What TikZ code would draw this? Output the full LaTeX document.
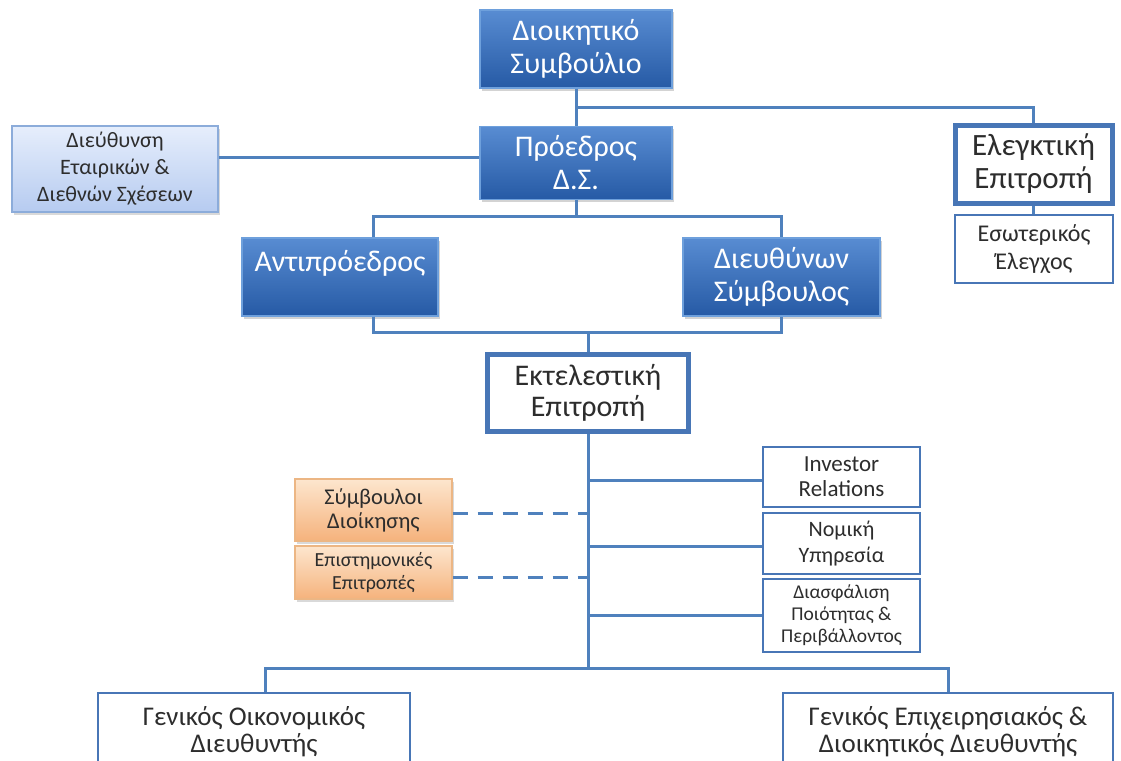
\documentclass[tikz,border=0pt]{standalone}
\usepackage{fontspec}
\setmainfont{Carlito}
\usetikzlibrary{shadows}
\definecolor{orgline}{RGB}{79,129,189}
\definecolor{frameblue}{RGB}{72,118,182}
\definecolor{dktop}{RGB}{88,140,210}
\definecolor{dkbot}{RGB}{38,90,165}
\definecolor{dkedge}{RGB}{110,160,220}
\definecolor{lttop}{RGB}{230,238,252}
\definecolor{ltbot}{RGB}{182,203,240}
\definecolor{ltedge}{RGB}{140,172,218}
\definecolor{ortop}{RGB}{253,230,206}
\definecolor{orbot}{RGB}{245,178,124}
\definecolor{oredge}{RGB}{236,182,132}
\definecolor{txtgray}{RGB}{45,45,45}
\tikzset{
  box/.style={rectangle,align=center,inner sep=0pt,text=txtgray},
  dkbox/.style={box,top color=dktop,bottom color=dkbot,draw=dkedge,line width=1.2pt,
    text=white,font=\fontsize{30}{33}\selectfont,
    drop shadow={shadow xshift=2pt,shadow yshift=-2.5pt,opacity=.35}},
  ltbox/.style={box,top color=lttop,bottom color=ltbot,draw=ltedge,line width=1.2pt,
    font=\fontsize{22}{27}\selectfont,
    drop shadow={shadow xshift=2pt,shadow yshift=-2.5pt,opacity=.3}},
  orbox/.style={box,top color=ortop,bottom color=orbot,draw=oredge,line width=1.2pt,
    drop shadow={shadow xshift=2pt,shadow yshift=-2.5pt,opacity=.3}},
  thkbox/.style={box,fill=white,draw=frameblue,line width=5pt},
  thnbox/.style={box,fill=white,draw=frameblue,line width=2.5pt},
  lnk/.style={draw=orgline,line width=3pt},
  dotlnk/.style={lnk,dash pattern=on 15pt off 10pt}
}

\begin{document}
\begin{tikzpicture}[x=1pt,y=-1pt]
\useasboundingbox (0,0) rectangle (1121,760);
%board, chairman, audit
\node[dkbox,minimum width=192,minimum height=78] (board) at (576,49) {Διοικητικό\\Συμβούλιο};
\node[dkbox,minimum width=192,minimum height=73] (chair) at (576,163) {Πρόεδρος\\Δ.Σ.};
\node[ltbox,minimum width=206,minimum height=86] (corprel) at (115,169) {Διεύθυνση\\Εταιρικών \&\\Διεθνών Σχέσεων};
\node[thkbox,minimum width=157,minimum height=78,font=\fontsize{31}{33}\selectfont] (audit) at (1033.5,164) {Ελεγκτική\\Επιτροπή};
\node[thnbox,minimum width=158,minimum height=68,font=\fontsize{24}{28}\selectfont] (intaudit) at (1034,249) {Εσωτερικός\\Έλεγχος};
\coordinate (j1) at (576,107);
\draw[lnk] (board.south) -- (chair.north);
\draw[lnk] (j1) -| (audit.north);
\draw[lnk] ([yshift=6pt]chair.west) -- ([yshift=6pt]chair.west -| corprel.east);
\draw[lnk] (audit.south) -- (audit.south |- intaudit.north);
%vice chairman and ceo
\node[dkbox,minimum width=196,minimum height=78,text depth=32pt] (vice) at (340,277) {Αντιπρόεδρος};
\node[dkbox,minimum width=197,minimum height=78] (ceo) at (781.5,277) {Διευθύνων\\Σύμβουλος};
\coordinate (j2) at (576,216);
\draw[lnk] (chair.south) -- (j2);
\draw[lnk] ([xshift=33pt]vice.north) |- (j2) -| (ceo.north);
%executive committee
\node[thkbox,minimum width=201,minimum height=77,font=\fontsize{30}{31}\selectfont] (exec) at (588,392.5) {Εκτελεστική\\Επιτροπή};
\coordinate (j3) at (588,332);
\draw[lnk] ([xshift=33pt]vice.south) |- (j3) -| (ceo.south);
\draw[lnk] (j3) -- (exec.north);
%staff units
\node[thnbox,minimum width=157,minimum height=60,font=\fontsize{23}{25}\selectfont] (investor) at (841.5,477) {Investor\\Relations};
\node[thnbox,minimum width=157,minimum height=61,font=\fontsize{22}{26}\selectfont] (legal) at (841.5,543.5) {Νομική\\Υπηρεσία};
\node[thnbox,minimum width=157,minimum height=73,font=\fontsize{19.5}{22}\selectfont] (quality) at (841.5,615.5) {Διασφάλιση\\Ποιότητας \&\\Περιβάλλοντος};
\node[orbox,minimum width=157,minimum height=62,font=\fontsize{22.5}{24}\selectfont] (advisors) at (373.5,510) {Σύμβουλοι\\Διοίκησης};
\node[orbox,minimum width=157,minimum height=53,font=\fontsize{20}{23}\selectfont] (sci) at (373.5,572.5) {Επιστημονικές\\Επιτροπές};
\coordinate (j4) at (588,668);
\draw[lnk] (exec.south) -- (j4);
\draw[lnk] ([yshift=-3pt]investor.west) -- ([yshift=-3pt]investor.west -| j4);
\draw[lnk] ([yshift=-3pt]legal.west) -- ([yshift=-3pt]legal.west -| j4);
\draw[lnk] (quality.west) -- (quality.west -| j4);
\draw[dotlnk] ([yshift=-3pt]advisors.east) -- ([yshift=-3pt]advisors.east -| j4);
\draw[dotlnk] ([yshift=-5pt]sci.east) -- ([yshift=-5pt]sci.east -| j4);
%general managers
\node[thnbox,minimum width=312,minimum height=77,font=\fontsize{27}{27}\selectfont] (cfo) at (254,731.5) {Γενικός Οικονομικός\\Διευθυντής};
\node[thnbox,minimum width=330,minimum height=77,font=\fontsize{27}{27}\selectfont] (coo) at (948,731.5) {Γενικός Επιχειρησιακός \&\\Διοικητικός Διευθυντής};
\draw[lnk] ([xshift=11pt]cfo.north) |- (j4) -| (coo.north);
\end{tikzpicture}
\end{document}
